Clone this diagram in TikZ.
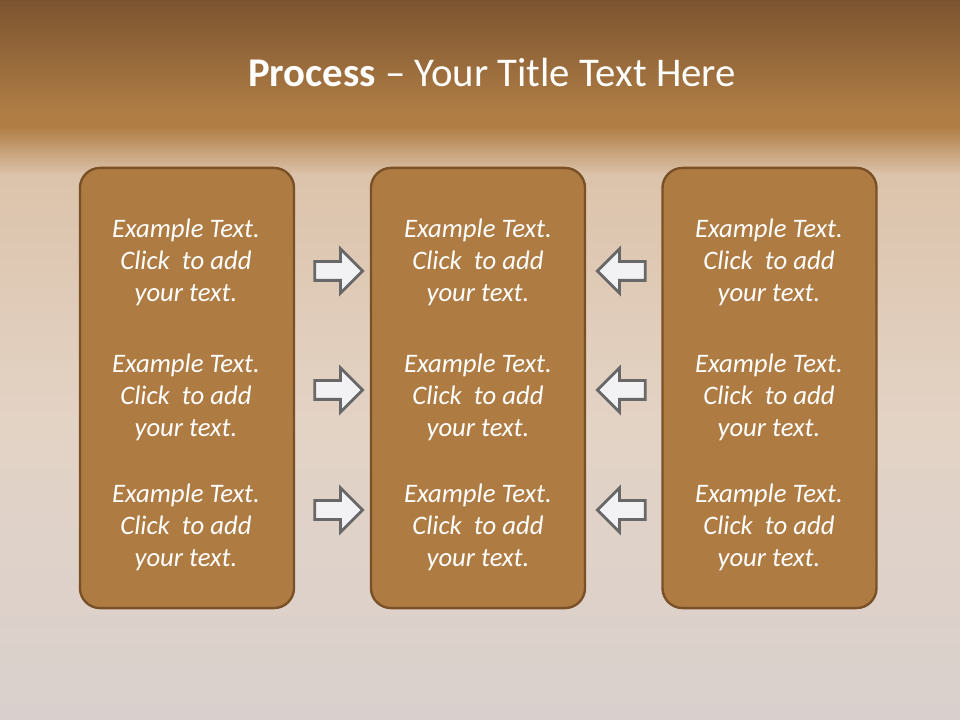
\documentclass[tikz,border=0pt]{standalone}
\usepackage{fontspec}
\setmainfont{Carlito}
\usetikzlibrary{shapes.arrows}

\definecolor{bandtop}{HTML}{7C5430}
\definecolor{bandlow}{HTML}{B07E45}
\definecolor{sandhi}{HTML}{DCC3AB}
\definecolor{sandmid}{HTML}{E3D3C5}
\definecolor{sandlow}{HTML}{D9D0CD}
\definecolor{panelfill}{HTML}{AE7B43}
\definecolor{panelline}{HTML}{7A5126}
\definecolor{arrowfill}{HTML}{F2F2F5}
\definecolor{arrowline}{HTML}{686868}

\begin{document}
\begin{tikzpicture}[x=0.025cm, y=-0.025cm,
    % box style
    panel/.style={
        draw=panelline,
        fill=panelfill,
        line width=1.7pt,
        rounded corners=0.5cm,
        minimum width=5.35cm,
        minimum height=11cm
    },
    % text inside the boxes
    blurb/.style={
        align=center,
        text=white,
        font=\itshape\fontsize{19}{22.7}\selectfont
    },
    % block arrow style
    blockarrow/.style={
        single arrow,
        draw=arrowline,
        fill=arrowfill,
        line width=2pt,
        inner sep=0.2cm,
        minimum height=1.2cm,
        single arrow head extend=0.32cm
    }
]
    \useasboundingbox (0,0) rectangle (960,720);

    % ================== background ==================
    \shade[top color=bandtop, bottom color=bandlow] (0,0) rectangle (960,115);
    \fill[bandlow] (0,114) rectangle (960,128);
    \shade[top color=bandlow, bottom color=sandhi] (0,127) rectangle (960,175);
    \shade[top color=sandhi, bottom color=sandmid] (0,174) rectangle (960,420);
    \shade[top color=sandmid, bottom color=sandlow] (0,419) rectangle (960,720);

    % title
    \node[anchor=base, text=white, font=\fontsize{29}{34}\selectfont] (title) at (492,87)
        {\textbf{Process} -- Your Title Text Here};

    % ================== boxes ==================
    \node[panel] (box_left) at (187,388) {};
    \node[panel] (box_mid) at (478,388) {};
    \node[panel] (box_right) at (769.5,388) {};

    % left box
    \node[blurb] (left_a) at (186,262) {Example Text.\\Click\ \ to add\\your text.};
    \node[blurb] (left_b) at (186,397) {Example Text.\\Click\ \ to add\\your text.};
    \node[blurb] (left_c) at (186,527) {Example Text.\\Click\ \ to add\\your text.};

    % middle box
    \node[blurb] (mid_a) at (478,262) {Example Text.\\Click\ \ to add\\your text.};
    \node[blurb] (mid_b) at (478,397) {Example Text.\\Click\ \ to add\\your text.};
    \node[blurb] (mid_c) at (478,527) {Example Text.\\Click\ \ to add\\your text.};

    % right box
    \node[blurb] (right_a) at (769,262) {Example Text.\\Click\ \ to add\\your text.};
    \node[blurb] (right_b) at (769,397) {Example Text.\\Click\ \ to add\\your text.};
    \node[blurb] (right_c) at (769,527) {Example Text.\\Click\ \ to add\\your text.};

    % ================== arrows ==================
    \node[blockarrow] (arr_l1) at (334,271) {};
    \node[blockarrow] (arr_l2) at (334,390) {};
    \node[blockarrow] (arr_l3) at (334,510) {};

    \node[blockarrow, shape border rotate=180] (arr_r1) at (626,271) {};
    \node[blockarrow, shape border rotate=180] (arr_r2) at (626,390) {};
    \node[blockarrow, shape border rotate=180] (arr_r3) at (626,510) {};

\end{tikzpicture}
\end{document}
